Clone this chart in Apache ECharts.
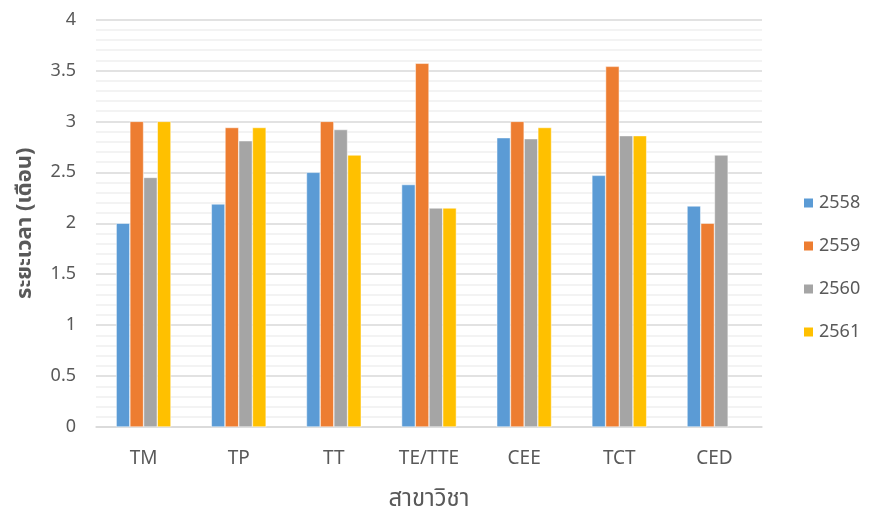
<!DOCTYPE html>
<html><head><meta charset="utf-8">
<script src="https://cdn.jsdelivr.net/npm/echarts@6/dist/echarts.min.js"></script>
<style>html,body{margin:0;padding:0;background:#fff}#c{width:869px;height:508px}</style>
</head><body><div id="c"></div>
<script>
const categories = ['TM','TP','TT','TE/TTE','CEE','TCT','CED'];
const seriesNames = ['2558','2559','2560','2561'];
const v2558 = [2.0, 2.19, 2.5, 2.38, 2.84, 2.47, 2.17];
const v2559 = [3.0, 2.94, 3.0, 3.57, 3.0, 3.54, 2.0];
const v2560 = [2.45, 2.81, 2.92, 2.15, 2.83, 2.86, 2.67];
const v2561 = [3.0, 2.94, 2.67, 2.15, 2.94, 2.86, null];
const colors = ['#5B9BD5','#ED7D31','#A5A5A5','#FFC000'];
const values = [v2558, v2559, v2560, v2561];
const font = '"Noto Sans", "Noto Sans Thai", sans-serif';
const chart = echarts.init(document.getElementById('c'));
chart.setOption({
  animation: false,
  color: colors,
  grid: {left: 96, right: 107, top: 19.5, bottom: 81, containLabel: false, outerBoundsMode: 'none'},
  legend: {
    orient: 'vertical', left: 797, top: 189, itemGap: 25,
    itemWidth: 11, itemHeight: 11, icon: 'rect',
    textStyle: {fontSize: 18, color: '#595959', fontFamily: font},
    data: seriesNames
  },
  xAxis: {
    type: 'category', data: categories,
    name: 'สาขาวิชา', nameLocation: 'middle', nameGap: 60,
    nameTextStyle: {fontSize: 24, color: '#595959', fontFamily: font},
    axisLine: {lineStyle: {color: '#d9d9d9', width: 1.5}},
    axisTick: {show: false},
    axisLabel: {fontSize: 19, color: '#595959', fontFamily: font, margin: 22}
  },
  yAxis: {
    type: 'value', min: 0, max: 4, interval: 0.5,
    name: 'ระยะเวลา (เดือน)', nameLocation: 'middle', nameGap: 60,
    nameTextStyle: {fontSize: 22, color: '#595959', fontFamily: font, fontWeight: 'bold'},
    axisLine: {show: false}, axisTick: {show: false},
    axisLabel: {fontSize: 18, color: '#595959', fontFamily: font, margin: 20},
    splitLine: {lineStyle: {color: '#d9d9d9', width: 1.5}},
    minorTick: {show: false, splitNumber: 5},
    minorSplitLine: {show: true, lineStyle: {color: '#f0f0f0', width: 1.5}}
  },
  series: seriesNames.map((n, i) => ({
    name: n, type: 'bar', data: values[i],
    barWidth: 13.7, barGap: '0%',
    itemStyle: {color: colors[i], borderColor: '#fff', borderWidth: 0.5}
  }))
});
</script></body></html>
